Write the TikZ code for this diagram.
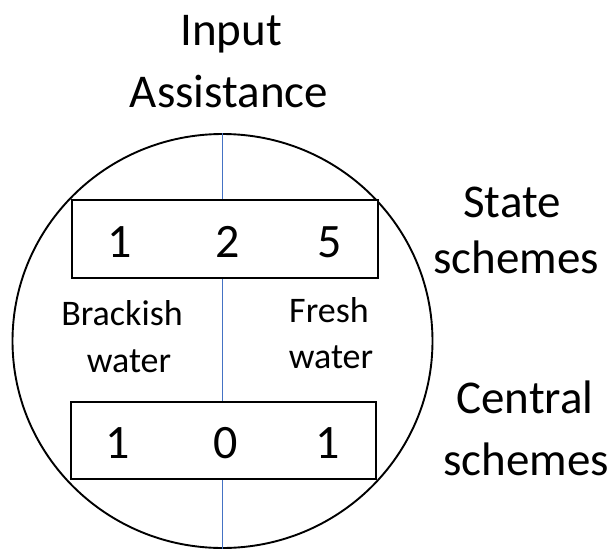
\documentclass[tikz,border=0pt]{standalone}
\usepackage{fontspec}
\setmainfont{Carlito}
\usetikzlibrary{shapes.geometric}
\definecolor{axisblue}{RGB}{68,114,196}
\tikzset{
  bigtxt/.style={anchor=base, inner sep=0pt, font=\fontsize{47}{56}\selectfont},
  digit/.style={anchor=base, inner sep=0pt, font=\fontsize{48}{58}\selectfont},
  smalltxt/.style={anchor=base, inner sep=0pt, font=\fontsize{36}{44}\selectfont},
  valbox/.style={draw=black, line width=2.3pt, fill=white, inner sep=0pt},
  axisline/.style={draw=axisblue, line width=0.9pt},
  ring/.style={draw=black, line width=1.9pt, ellipse, inner sep=0pt}
}
\begin{document}
\begin{tikzpicture}[x=1pt,y=-1pt]
\useasboundingbox (0,0) rectangle (611,549);
% circle
\node[ring, minimum width=420pt, minimum height=414pt] (circ) at (222.5,341) {};
% vertical axis
\draw[axisline] (circ.north) -- (circ.south);
% boxes
\node[valbox, minimum width=306pt, minimum height=78pt] (top) at (225,239) {};
\node[valbox, minimum width=305pt, minimum height=77pt] (bot) at (223.5,440.5) {};
% digits
\node[digit] (t1) at (120,257) {1};
\node[digit] (t2) at (228,257) {2};
\node[digit] (t3) at (330,257) {5};
\node[digit] (b1) at (118,458) {1};
\node[digit] (b2) at (226,458) {0};
\node[digit] (b3) at (328,458) {1};
% labels
\node[bigtxt] (in1) at (231,45) {Input};
\node[bigtxt] (in2) at (229,107) {Assistance};
\node[bigtxt] (st1) at (512,217) {State};
\node[bigtxt] (st2) at (516,273) {schemes};
\node[bigtxt] (ce1) at (525,413) {Central};
\node[bigtxt] (ce2) at (526,475) {schemes};
\node[smalltxt] (br1) at (122,325) {Brackish};
\node[smalltxt] (br2) at (129,372) {water};
\node[smalltxt] (fr1) at (329,322) {Fresh};
\node[smalltxt] (fr2) at (331,368) {water};
\end{tikzpicture}
\end{document}
